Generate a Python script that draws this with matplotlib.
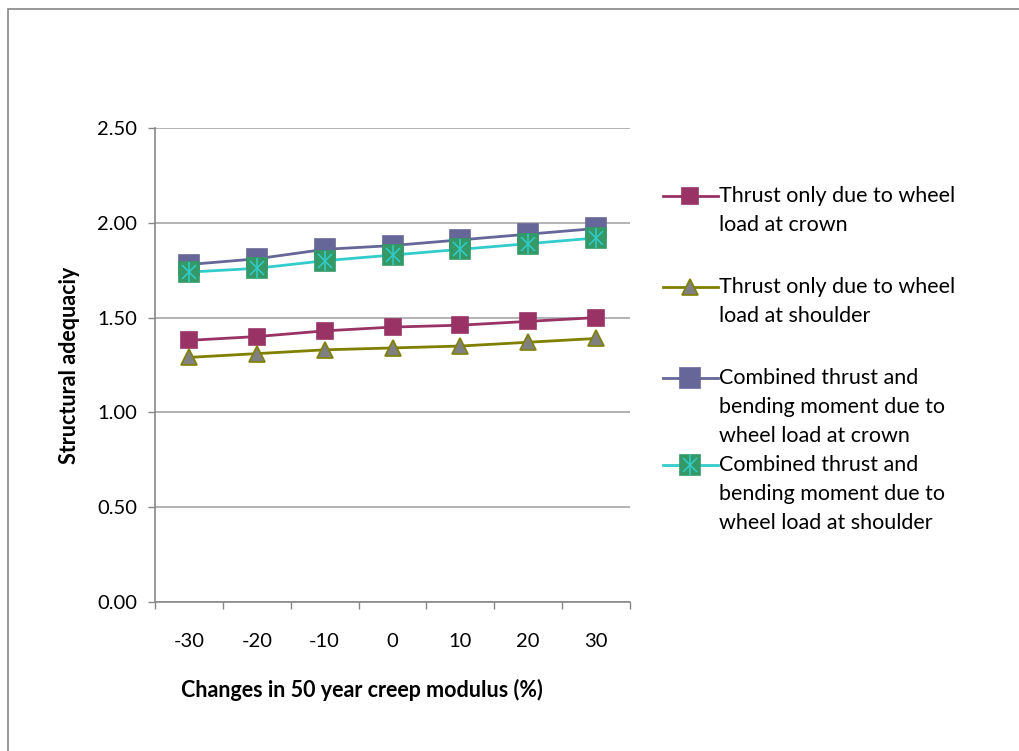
import matplotlib
matplotlib.use("Agg")
import matplotlib.pyplot as plt
from matplotlib.lines import Line2D
from matplotlib.patches import Rectangle

categories = ["-30", "-20", "-10", "0", "10", "20", "30"]
thrust_crown = [1.38, 1.40, 1.43, 1.45, 1.46, 1.48, 1.50]
thrust_shoulder = [1.29, 1.31, 1.33, 1.34, 1.35, 1.37, 1.39]
combined_crown = [1.78, 1.81, 1.86, 1.88, 1.91, 1.94, 1.97]
combined_shoulder = [1.74, 1.76, 1.80, 1.83, 1.86, 1.89, 1.92]
labels = [
    "Thrust only due to wheel\nload at crown",
    "Thrust only due to wheel\nload at shoulder",
    "Combined thrust and\nbending moment due to\nwheel load at crown",
    "Combined thrust and\nbending moment due to\nwheel load at shoulder",
]
y_ticks = [0.0, 0.5, 1.0, 1.5, 2.0, 2.5]

plt.rcParams['font.family'] = ['Lato', 'DejaVu Sans']
FS_TICK = 14.5
FS_TEXT = 15.5

W, H = 1019, 751
fig = plt.figure(figsize=(W / 100, H / 100), dpi=100)
fig.patch.set_facecolor("white")
fig.patches.append(Rectangle((8 / W, -0.1), 1.2, 1 - 9 / H + 0.1, transform=fig.transFigure,
                             fill=False, edgecolor="#878787", linewidth=1.2))

ax = fig.add_axes([155 / W, 1 - 602 / H, 475 / W, 474 / H])
x = list(range(len(categories)))

styles = [
    dict(data=thrust_crown, color="#993366", marker="s", ms=11, mfc="#993366", mec="#993366"),
    dict(data=thrust_shoulder, color="#808000", marker="^", ms=12, mfc="#808080", mec="#808000"),
    dict(data=combined_crown, color="#666699", marker="s", ms=15, mfc="#666699", mec="#666699"),
    dict(data=combined_shoulder, color="#33CCCC", marker="s", ms=15, mfc="#339966", mec="#339966"),
]


def star_overlay(target, xs, ys, z, **kw):
    target.plot(xs, ys, lw=0, marker="x", ms=10, mec="#33CCCC", mew=1.1, zorder=z, **kw)
    target.plot(xs, ys, lw=0, marker="|", ms=14, mec="#33CCCC", mew=1.1, zorder=z, **kw)


for i, s in enumerate(styles):
    ax.plot(x, s["data"], color=s["color"], lw=2, marker=s["marker"], ms=s["ms"],
            mfc=s["mfc"], mec=s["mec"], mew=1.2, zorder=3 + i, clip_on=False)
    if i == 3:
        star_overlay(ax, x, s["data"], 3 + i + 0.5, clip_on=False)

ax.set_xlim(-0.5, len(categories) - 0.5)
ax.set_ylim(0, 2.5)
ax.set_yticks(y_ticks)
ax.set_yticklabels([f"{v:.2f}" for v in y_ticks], fontsize=FS_TICK)
ax.set_xticks(x)
ax.set_xticklabels(categories, fontsize=FS_TICK)
ax.set_xticks([i - 0.5 for i in range(len(categories) + 1)], minor=True)
ax.tick_params(axis="x", which="major", length=0, pad=22)
ax.tick_params(axis="x", which="minor", length=5, color="#878787", width=1)
ax.tick_params(axis="y", length=5, color="#878787", width=1, pad=8)
ax.grid(axis="y", color="#a6a6a6", linewidth=1.2)
ax.set_axisbelow(True)
for sp in ["top", "right"]:
    ax.spines[sp].set_visible(False)
for sp in ["left", "bottom"]:
    ax.spines[sp].set_color("#878787")
    ax.spines[sp].set_linewidth(1.2)

ax.set_ylabel("Structural adequaciy", fontsize=FS_TEXT, fontweight="bold")
ax.yaxis.set_label_coords((70 - 155) / 475, 0.5)
ax.yaxis.label.set_va("center")
ax.set_xlabel("Changes in 50 year creep modulus (%)", fontsize=FS_TEXT, fontweight="bold")
ax.xaxis.set_label_coords((362 - 155) / 475, -(690 - 602) / 474)
ax.xaxis.label.set_va("center")

# legend drawn manually
entry_y = [196, 287, 378, 465]
line_h = 28.8
for i, s in enumerate(styles):
    yy = 1 - entry_y[i] / H
    fig.add_artist(Line2D([663 / W, 718 / W], [yy, yy], color=s["color"], lw=2,
                          transform=fig.transFigure))
    fig.add_artist(Line2D([690 / W], [yy], lw=0, marker=s["marker"], ms=s["ms"],
                          mfc=s["mfc"], mec=s["mec"], mew=1.2, transform=fig.transFigure))
    if i == 3:
        fig.add_artist(Line2D([690 / W], [yy], lw=0, marker="x", ms=10, mec="#33CCCC",
                              mew=1.1, transform=fig.transFigure))
        fig.add_artist(Line2D([690 / W], [yy], lw=0, marker="|", ms=14, mec="#33CCCC",
                              mew=1.1, transform=fig.transFigure))
    for j, ln in enumerate(labels[i].split("\n")):
        fig.text(719 / W, 1 - (entry_y[i] + j * line_h) / H, ln, fontsize=FS_TEXT,
                 va="center", ha="left", color="#000000")

fig.savefig("out.png", dpi=100, facecolor="white")
